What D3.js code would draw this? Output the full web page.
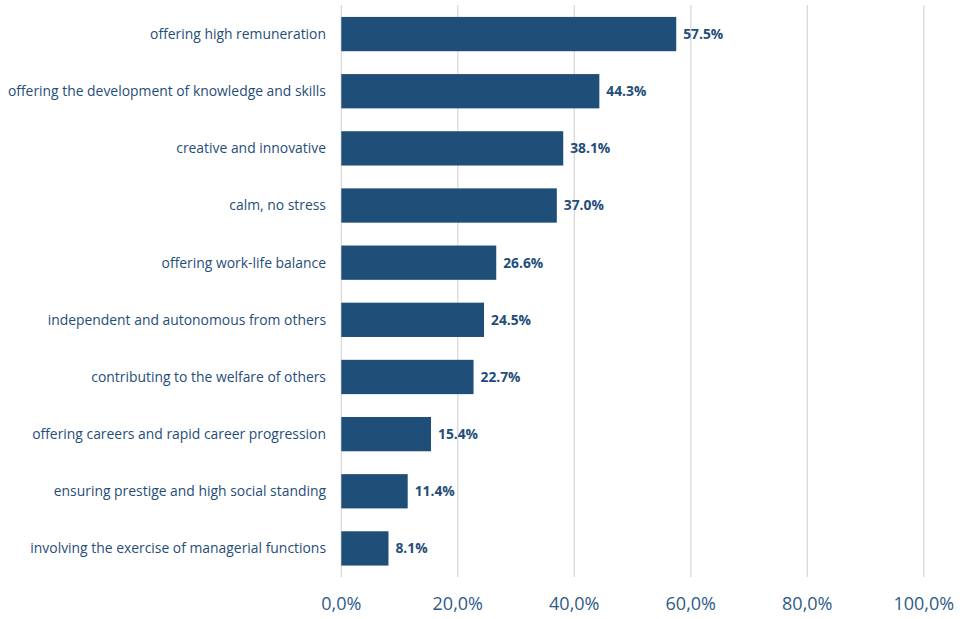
<!DOCTYPE html>
<html><head><meta charset="utf-8">
<script src="https://cdn.jsdelivr.net/npm/d3@7"></script>
<style>body{margin:0;background:#fff}</style>
</head><body>
<svg id="c" width="962" height="619"></svg>
<script>
const categories = [
  "offering high remuneration",
  "offering the development of knowledge and skills",
  "creative and innovative",
  "calm, no stress",
  "offering work-life balance",
  "independent and autonomous from others",
  "contributing to the welfare of others",
  "offering careers and rapid career progression",
  "ensuring prestige and high social standing",
  "involving the exercise of managerial functions"
];
const values = [57.5, 44.3, 38.1, 37.0, 26.6, 24.5, 22.7, 15.4, 11.4, 8.1];
const ticks = [0, 20, 40, 60, 80, 100];
const tickLabels = ["0,0%", "20,0%", "40,0%", "60,0%", "80,0%", "100,0%"];

const svg = d3.select("#c");
const font = "Open Sans, sans-serif";
const x = d3.scaleLinear().domain([0, 100]).range([341.3, 923.8]);
const y = d3.scaleBand().domain(categories).range([5.5, 577]).paddingInner(0.4).paddingOuter(0.2);

svg.append("g").selectAll("line").data(ticks).join("line")
  .attr("x1", d => x(d)).attr("x2", d => x(d))
  .attr("y1", 5).attr("y2", 577)
  .attr("stroke", "#d9d9d9").attr("stroke-width", 1.3);

svg.append("g").selectAll("rect").data(values).join("rect")
  .attr("x", x(0)).attr("y", (d, i) => y(categories[i]))
  .attr("width", d => x(d) - x(0)).attr("height", y.bandwidth())
  .attr("fill", "#1f4e79");

svg.append("g").selectAll("text").data(values).join("text")
  .attr("x", d => x(d) + 7).attr("y", (d, i) => y(categories[i]) + y.bandwidth() / 2)
  .attr("dy", "0.35em").attr("font-family", font).attr("font-size", 13.8)
  .attr("font-weight", "bold").attr("fill", "#1f4e79")
  .text(d => d.toFixed(1) + "%");

svg.append("g").selectAll("text").data(categories).join("text")
  .attr("x", 326).attr("y", d => y(d) + y.bandwidth() / 2)
  .attr("dy", "0.35em").attr("text-anchor", "end")
  .attr("font-family", font).attr("font-size", 13.9).attr("fill", "#1f4e79")
  .text(d => d);

svg.append("g").selectAll("text").data(ticks).join("text")
  .attr("x", d => x(d)).attr("y", 604).attr("dy", "0.35em")
  .attr("text-anchor", "middle").attr("font-family", font).attr("font-size", 18)
  .attr("fill", "#2e5b8a")
  .text((d, i) => tickLabels[i]);
</script>
</body></html>
